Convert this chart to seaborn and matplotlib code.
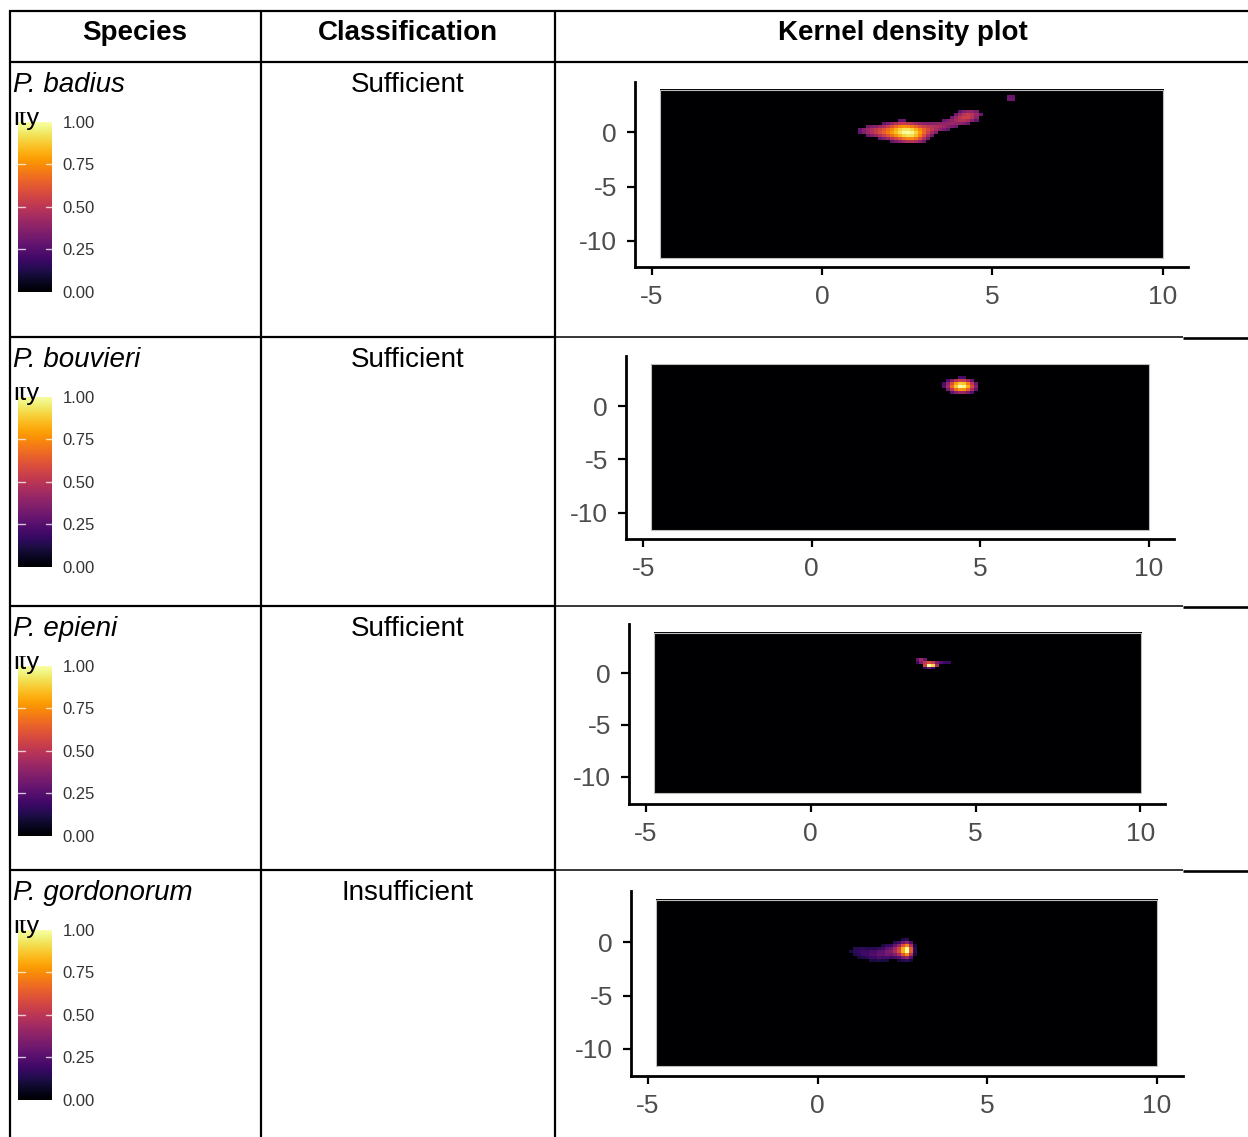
import numpy as np
import matplotlib
matplotlib.use("Agg")
import matplotlib.pyplot as plt
import seaborn as sns
from matplotlib.patches import Rectangle

# ---------------------------------------------------------------- data
headers = ["Species", "Classification", "Kernel density plot"]
species = ["P. badius", "P. bouvieri", "P. epieni", "P. gordonorum"]
classification = ["Sufficient", "Sufficient", "Sufficient", "Insufficient"]

x_ticks = [-5, 0, 5, 10]
y_ticks = [0, -5, -10]
legend_ticks = [0.0, 0.25, 0.5, 0.75, 1.0]
legend_labels = ["0.00", "0.25", "0.50", "0.75", "1.00"]
legend_title_tail = "ity"

# window over which every density surface is evaluated
grid_x = [-4.76, 10.01]
grid_y = [-11.6, 3.92]

# record hotspots (x, y, weight) for each species
badius_x = [1.15, 1.5, 1.85, 2.0, 2.2, 2.3, 2.3, 2.5, 2.6, 2.7, 2.7, 2.9,
            3.1, 3.45, 3.8, 4.1, 4.3, 4.5, 5.5]
badius_y = [0.1, 0.05, 0.0, -0.45, 0.65, 0.35, -0.35, 0.0, -0.7, 0.35, -0.35, -0.6,
            0.25, 0.45, 0.75, 1.1, 1.45, 1.8, 3.05]
badius_w = [2.8, 3.2, 3.8, 2.2, 2.2, 3, 3, 3, 2.6, 3, 3, 2.2,
            3.5, 3, 2.6, 2.5, 4.5, 1.8, 4.4]

bouvieri_x = [4.05, 4.25, 4.42, 4.55, 4.7, 4.9]
bouvieri_y = [1.9, 1.9, 1.9, 1.88, 1.85, 1.88]
bouvieri_w = [1.4, 2.5, 4, 3, 1.5, 0.7]

epieni_x = [3.5, 3.62, 3.75, 3.28, 3.42, 3.95, 4.2, 3.55]
epieni_y = [0.8, 0.8, 0.82, 1.2, 1.17, 1.1, 1.05, 0.45]
epieni_w = [3, 5, 3, 2.5, 2, 1.6, 1.2, 0.9]

gordonorum_x = [1.05, 1.3, 1.55, 1.8, 2.05, 2.3, 2.5, 2.66]
gordonorum_y = [-0.85, -1.0, -1.15, -1.15, -1.0, -0.85, -0.8, -0.8]
gordonorum_w = [1.0, 1.3, 1.5, 1.8, 2.2, 2.8, 3.5, 6]

# kernel bandwidths (x, y) and the density below which cells are blanked
bandwidths = [(0.3, 0.5), (0.22, 0.45), (0.1, 0.18), (0.11, 0.5)]
cutoffs = [0.28, 0.2, 0.15, 0.1]

hotspots = [
    (badius_x, badius_y, badius_w),
    (bouvieri_x, bouvieri_y, bouvieri_w),
    (epieni_x, epieni_y, epieni_w),
    (gordonorum_x, gordonorum_y, gordonorum_w),
]

# ---------------------------------------------------------------- layout (pixels)
W, H = 1248, 1137
row_lines = [337, 606, 870]
col_lines = [10, 261, 555]
panels = [
    dict(left=635, top=82, right=1188, bottom=267, xm5=651.7, x10=1162.7, y0=132.3, ym10=241.0),
    dict(left=626, top=356, right=1173.5, bottom=539, xm5=643.4, x10=1148.5, y0=406.0, ym10=512.7),
    dict(left=629, top=624, right=1165, bottom=804, xm5=645.6, x10=1140.5, y0=673.3, ym10=776.7),
    dict(left=631, top=890.7, right=1182.5, bottom=1076.3, xm5=647.8, x10=1156.9, y0=942.0, ym10=1049.0),
]
NX, NY = 125, 56

sns.set_theme(style="ticks")
plt.rcParams["font.family"] = ["Liberation Sans", "DejaVu Sans"]
cmap = sns.color_palette("inferno", as_cmap=True)

fig = plt.figure(figsize=(W / 100, H / 100), dpi=100)
fig.patch.set_facecolor("white")


def fig_box(left, top, right, bottom):
    return [left / W, 1 - bottom / H, (right - left) / W, (bottom - top) / H]


def density_surface(xs, ys, ws, bw, cut):
    dx = (grid_x[1] - grid_x[0]) / NX
    dy = (grid_y[1] - grid_y[0]) / NY
    gx = grid_x[0] + (np.arange(NX) + 0.5) * dx
    gy = grid_y[0] + (np.arange(NY) + 0.5) * dy
    GX, GY = np.meshgrid(gx, gy)
    z = np.zeros_like(GX)
    for x, y, w in zip(xs, ys, ws):
        z += w * np.exp(-0.5 * ((GX - x) / bw[0]) ** 2 - 0.5 * ((GY - y) / bw[1]) ** 2)
    z /= z.max()
    z[z < cut] = 0.0
    return z


# table frame and text
tab = fig.add_axes([0, 0, 1, 1])
tab.set_xlim(0, W)
tab.set_ylim(H, 0)
tab.axis("off")

lw_thick = 1.6
tab.plot([9, W], [11, 11], color="black", lw=lw_thick, solid_capstyle="butt")
tab.plot([9, W], [62, 62], color="black", lw=lw_thick, solid_capstyle="butt")
for y in row_lines:
    tab.plot([9, 555], [y, y], color="black", lw=lw_thick, solid_capstyle="butt")
    tab.plot([555, 1183], [y, y], color="black", lw=1.1, solid_capstyle="butt")
    tab.plot([1183, W], [y + 0.5, y + 0.5], color="black", lw=1.9, solid_capstyle="butt")
for x in col_lines:
    tab.plot([x, x], [10, H], color="black", lw=lw_thick, solid_capstyle="butt")

header_x = [135, 408, 903]
for hx, label in zip(header_x, headers):
    tab.text(hx, 39.5, label, ha="center", va="baseline", fontsize=20,
             fontweight="bold", color="black")

row_tops = [62, 337, 606, 870]
for i, top in enumerate(row_tops):
    tab.text(13, top + 30, species[i], ha="left", va="baseline", fontsize=20,
             style="italic", color="black")
    tab.text(408, top + 30, classification[i], ha="center", va="baseline",
             fontsize=20, color="black")

    # colour legend: the bar and the lower part of its title
    bar_top = top + 59.7
    cax = fig.add_axes(fig_box(18.3, bar_top, 52.3, bar_top + 170))
    cax.set_zorder(3)
    grad = np.linspace(0, 1, 256).reshape(-1, 1)
    cax.imshow(grad, origin="lower", extent=[0, 1, 0, 1], aspect="auto",
               cmap=cmap, vmin=0, vmax=1)
    for v in legend_ticks[1:-1]:
        cax.plot([0, 0.2], [v, v], color="white", lw=1.0, alpha=0.75)
        cax.plot([0.8, 1], [v, v], color="white", lw=1.0, alpha=0.75)
    cax.set_xlim(0, 1)
    cax.set_ylim(0, 1)
    cax.set_xticks([])
    cax.yaxis.tick_right()
    cax.set_yticks(legend_ticks)
    cax.set_yticklabels(legend_labels)
    cax.tick_params(axis="y", length=0, pad=7.5, labelsize=12, labelcolor="#333333")
    for sp in cax.spines.values():
        sp.set_visible(False)

    t = fig.text(13, bar_top + 3.0, legend_title_tail, transform=tab.transData,
                 ha="left", va="baseline", fontsize=19, color="black", zorder=10)
    t.set_clip_on(True)
    t.set_clip_path(Rectangle((12, bar_top - 10), 60, 30, transform=tab.transData))

# kernel density panels
for i, p in enumerate(panels):
    ax = fig.add_axes(fig_box(p["left"], p["top"], p["right"], p["bottom"]))
    ax.set_zorder(2)
    ax.patch.set_alpha(0)
    sx = (p["x10"] - p["xm5"]) / 15
    sy = (p["ym10"] - p["y0"]) / 10
    ax.set_xlim(-5 + (p["left"] - p["xm5"]) / sx, -5 + (p["right"] - p["xm5"]) / sx)
    ax.set_ylim(-(p["bottom"] - p["y0"]) / sy, (p["y0"] - p["top"]) / sy)

    xs, ys, ws = hotspots[i]
    z = density_surface(xs, ys, ws, bandwidths[i], cutoffs[i])
    ax.imshow(z, origin="lower", extent=[grid_x[0], grid_x[1], grid_y[0], grid_y[1]],
              cmap=cmap, vmin=0, vmax=1, aspect="auto", interpolation="nearest")
    ax.add_patch(Rectangle((grid_x[0], grid_y[0]), grid_x[1] - grid_x[0],
                           grid_y[1] - grid_y[0], fill=False, edgecolor="#bdbdbd", lw=0.8))

    sns.despine(ax=ax)
    for side in ("left", "bottom"):
        ax.spines[side].set_linewidth(2.0)
        ax.spines[side].set_color("black")
    ax.set_xticks(x_ticks)
    ax.set_yticks(y_ticks)
    ax.set_xticklabels([str(v) for v in x_ticks])
    ax.set_yticklabels([str(v) for v in y_ticks])
    ax.tick_params(length=6, width=1.6, color="black", pad=7, labelsize=19,
                   labelcolor="#4D4D4D")
    ax.grid(False)

fig.savefig("out.png", dpi=100, facecolor="white")
